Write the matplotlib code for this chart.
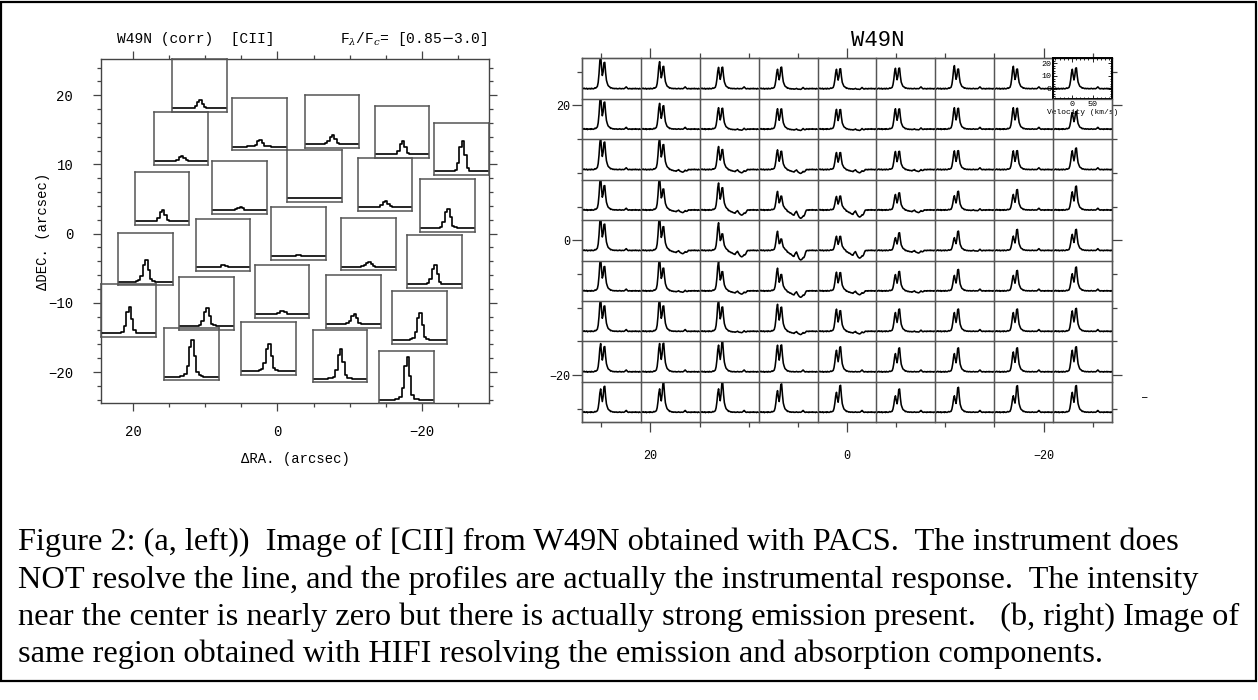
import numpy as np
import matplotlib
matplotlib.use("Agg")
import matplotlib.pyplot as plt
from matplotlib.patches import Rectangle
from matplotlib.ticker import MultipleLocator, FixedLocator

plt.rcParams['font.family'] = ['Liberation Mono', 'DejaVu Sans']
plt.rcParams['mathtext.fontset'] = 'dejavuserif'

W, H = 1258, 700

# ---------------- PACS (left panel) data ----------------
PACS_RA = [10.85, 13.40, 2.51, -7.57, -17.28, -25.58, 16.04, 5.25, -5.13, -14.93,
           -23.54, 18.35, 7.57, -2.94, -12.60, -21.74, -0.63, 20.67, 9.90, 11.94,
           1.29, -10.56, -8.67, -19.68, -17.92]
PACS_DEC = [21.38, 13.77, 15.86, 16.25, 14.72, 12.26, 5.07, 6.71, 8.35, 7.09,
            4.10, -3.68, -1.62, 0.04, -1.51, -4.06, -8.39, -11.14, -10.06, -17.39,
            -16.59, -9.77, -17.68, -12.09, -20.75]
PACS_PEAK = [1.35, 1.19, 1.26, 1.35, 1.54, 2.24, 1.45, 1.10, 1.02, 1.25,
             1.79, 1.87, 1.12, 1.03, 1.19, 1.79, 1.15, 2.09, 1.71, 2.51,
             2.11, 1.41, 2.21, 2.10, 2.75]
PACS_PROFILE = [0, 0, 0, 0, 0, 0, 0, 0.01, 0.02, 0.06, 0.28, 0.8, 1.0, 0.55, 0.12,
                0.03, 0.01, 0, 0, 0, 0, 0, 0, 0]
PACS_RANGE = (0.85, 3.0)
PACS_BOX = 7.6

# ---------------- HIFI (right panel) data ----------------
HIFI_RA = [24, 18, 12, 6, 0, -6, -12, -18, -24]
HIFI_DEC = [24, 18, 12, 6, 0, -6, -12, -18, -24]
V_START, V_STEP, N_CHAN = -45, 2, 72

BLUE_V0 = -15
BLUE_PROFILE = [0.0, 0.01, 0.02, 0.04, 0.08, 0.18, 0.45, 0.85, 1.0, 0.6, 0.25, 0.1,
                0.05, 0.03, 0.02, 0.01, 0, 0, 0, 0, 0, 0, 0, 0]
RED_V0 = -15
RED_PROFILE = [0, 0, 0, 0, 0, 0, 0, 0, 0.02, 0.08, 0.2, 0.55, 0.95, 1.0, 0.6, 0.33,
               0.2, 0.13, 0.09, 0.06, 0.04, 0.03, 0.02, 0.01]
ABS_V0 = 21
ABS_PROFILE = [-0.05, -0.1, -0.2, -0.25, -0.3, -0.35, -0.4, -0.45, -0.55, -0.65,
               -0.6, -0.4, -0.25, -0.2, -0.4, -0.6, -0.85, -0.95, -1.0, -1.0,
               -1.0, -0.95, -0.85, -0.55, -0.2, -0.05]
RIPPLE = [0.2, -0.3, 0.1, 0.4, -0.2, 0.0, 0.3, -0.4,
          0.1, -0.1, 0.2, -0.3, 0.3, 0.0, -0.2, 0.1,
          0.4, -0.1, 0.0, -0.3, 0.2, 0.1, -0.2, 0.0,
          0.3, -0.1, -0.3, 0.2, 0.0, 0.1, -0.2, 0.3,
          -0.1, 0.0, 0.2, -0.3, 0.1, 0.0, -0.2, 0.3,
          -0.1, 0.1, 0.2, -0.2, 0.0, -0.1, 0.3, 0.0,
          -0.2, 0.1, 0.0, -0.1, 0.2, 0.8, 1.4, 0.7,
          0.0, -0.2, 0.2, -0.1, 0.1, -0.3, 0.2, 0.0,
          -0.1, 0.3, -0.2, 0.1, 0.0, -0.3, 0.2, -0.1]

BLUE_AMP = [
    [26, 21, 16.5, 15, 15, 15.8, 17.9, 17.4, 15],
    [26, 20, 16.6, 15.8, 15.3, 15.8, 16.6, 16.6, 13],
    [25, 25, 17.9, 15.3, 13.2, 14, 14.5, 14.5, 14.5],
    [26, 26, 21, 14.5, 10.5, 12, 11, 12, 14],
    [27, 27, 21.6, 15, 11, 9.8, 9.8, 11, 12.4],
    [26, 26, 23, 17.7, 14.5, 12.6, 11.9, 11.9, 13.2],
    [26, 26, 25, 21, 17.2, 14.5, 14.5, 14.5, 15.8],
    [21.9, 21.9, 20.6, 20.6, 16.6, 14, 14, 15.3, 16.6],
    [18, 18, 18, 16.6, 15.3, 12.6, 12.6, 12.6, 15.3],
]
RED_AMP = [
    [20, 17, 16.5, 16.6, 15.3, 15.8, 15, 15, 16],
    [20.6, 17.9, 16, 15.5, 15, 15.5, 16, 16, 13.5],
    [21, 19, 15.3, 14, 13, 14, 14.5, 14.5, 16.6],
    [18.5, 15.8, 17, 10.5, 10.7, 13.2, 14.5, 15.8, 18.5],
    [20, 18, 12.4, 8.5, 10.8, 13.7, 15, 16.3, 16.3],
    [18.5, 17.2, 14.5, 12.4, 14, 15, 16.6, 15.8, 18.5],
    [19.3, 19.3, 18.5, 18.5, 15.8, 17.2, 17.2, 17.2, 17.7],
    [19.3, 21.9, 23.2, 20.6, 19.3, 18.5, 18.5, 18.5, 19.3],
    [20, 22.7, 23.2, 21.9, 20.8, 18, 19.3, 20.6, 20.6],
]
ABS_DEPTH = [
    [0, 0, 0, 0.5, 0.5, 0, 0, 0, 0],
    [0, 0, 0.8, 1, 1, 0.5, 0, 0, 0],
    [0, 2, 2.5, 3, 2.5, 1.5, 0, 0, 0],
    [0, 2, 4, 6.5, 5.5, 2, 0.5, 0, 0],
    [0, 2.5, 5, 7.5, 6, 2, 0.5, 0, 0],
    [0, 1, 2.5, 5, 3, 1.5, 0, 0, 0],
    [0, 0, 1, 2.5, 2, 0.5, 0, 0, 0],
    [0, 0, 0, 0, 0, 0, 0, 0, 0],
    [0, 0, 0, 0, 0, 0, 0, 0, 0],
]
CELL = 6
VEL_RANGE = (-45, 98)
TEMP_RANGE = (-8, 24)

CAPTION = [
    "Figure 2: (a, left))  Image of [CII] from W49N obtained with PACS.  The instrument does",
    "NOT resolve the line, and the profiles are actually the instrumental response.  The intensity",
    "near the center is nearly zero but there is actually strong emission present.   (b, right) Image of",
    "same region obtained with HIFI resolving the emission and absorption components.",
]

# ---------------- figure ----------------
fig = plt.figure(figsize=(W / 100, H / 100), dpi=100)
fig.patches.append(Rectangle((1 / W, 1 - 681 / H), 1255 / W, 679 / H, transform=fig.transFigure,
                             fill=False, lw=1.6, ec='black'))


def px_axes(x0, y0, x1, y1):
    return fig.add_axes([x0 / W, 1 - y1 / H, (x1 - x0) / W, (y1 - y0) / H])


# ---------- left panel ----------
axL = px_axes(101, 59.3, 489, 403)
LX = (24.49, -29.35)
LY = (-24.48, 25.2)
axL.set_xlim(*LX)
axL.set_ylim(*LY)
axL.xaxis.set_major_locator(MultipleLocator(20))
axL.xaxis.set_minor_locator(MultipleLocator(5))
axL.yaxis.set_major_locator(MultipleLocator(10))
axL.yaxis.set_minor_locator(MultipleLocator(2))
axL.tick_params(which='both', direction='out', top=True, right=True, color='#444', width=0.9)
axL.tick_params(which='major', length=6, labelsize=10, pad=10)
axL.tick_params(axis='y', which='major', pad=14)
axL.tick_params(which='minor', length=3)
for s in axL.spines.values():
    s.set_color('#444')
    s.set_linewidth(1.0)
axL.set_xlabel('ΔRA. (arcsec)', fontsize=10)
axL.set_ylabel('ΔDEC. (arcsec)', fontsize=10)
axL.xaxis.set_label_coords(0.5, -0.143)
axL.yaxis.set_label_coords(-0.131, 0.5)

spanx = LX[0] - LX[1]
spany = LY[1] - LY[0]
chan = np.arange(len(PACS_PROFILE))
prof = np.array(PACS_PROFILE)
for ra, dec, pk in zip(PACS_RA, PACS_DEC, PACS_PEAK):
    fx = (LX[0] - (ra + PACS_BOX / 2)) / spanx
    fy = (dec - PACS_BOX / 2 - LY[0]) / spany
    bax = axL.inset_axes([fx, fy, PACS_BOX / spanx, PACS_BOX / spany])
    bax.set_facecolor('none')
    bax.plot(chan, 1 + (pk - 1) * prof, drawstyle='steps-mid', color='black', lw=1.2)
    bax.set_xlim(chan[0], chan[-1])
    bax.set_ylim(*PACS_RANGE)
    bax.set_xticks([])
    bax.set_yticks([])
    for s in bax.spines.values():
        s.set_color('#555')
        s.set_linewidth(1.1)

fig.text(117 / W, 1 - 39 / H, 'W49N (corr)  [CII]', fontsize=10.5, ha='left', va='center')
fig.text(487 / W, 1 - 39 / H, r'F$_\lambda$/F$_c$= [0.85$-$3.0]', fontsize=10.5, ha='right', va='center')

# ---------- right panel ----------
axR = px_axes(581.7, 58.3, 1112.3, 422.3)
RX = (27, -27)
RY = (-27, 27)
axR.set_xlim(*RX)
axR.set_ylim(*RY)
axR.xaxis.set_major_locator(MultipleLocator(20))
axR.xaxis.set_minor_locator(MultipleLocator(5))
axR.yaxis.set_major_locator(MultipleLocator(20))
axR.yaxis.set_minor_locator(MultipleLocator(5))
axR.tick_params(which='both', direction='out', top=True, right=True, color='#444', width=0.9)
axR.tick_params(which='major', length=7, labelsize=8.5)
axR.tick_params(axis='x', which='major', pad=13)
axR.tick_params(axis='y', which='major', pad=1.5)
axR.tick_params(which='minor', length=3.6)
for s in axR.spines.values():
    s.set_color('#444')
    s.set_linewidth(1.0)
fig.text(878 / W, 1 - 41 / H, 'W49N', fontsize=16, ha='center', va='center')

vel = V_START + V_STEP * np.arange(N_CHAN)
blue = np.zeros(N_CHAN)
i0 = (BLUE_V0 - V_START) // V_STEP
blue[i0:i0 + len(BLUE_PROFILE)] = BLUE_PROFILE
red = np.zeros(N_CHAN)
i0 = (RED_V0 - V_START) // V_STEP
red[i0:i0 + len(RED_PROFILE)] = RED_PROFILE
absn = np.zeros(N_CHAN)
i0 = (ABS_V0 - V_START) // V_STEP
absn[i0:i0 + len(ABS_PROFILE)] = ABS_PROFILE
ripple = np.array(RIPPLE)

sx = RX[0] - RX[1]
sy = RY[1] - RY[0]
for r, dec in enumerate(HIFI_DEC):
    for c, ra in enumerate(HIFI_RA):
        fx = (RX[0] - (ra + CELL / 2)) / sx
        fy = (dec - CELL / 2 - RY[0]) / sy
        cax = axR.inset_axes([fx, fy, CELL / sx, CELL / sy])
        cax.set_facecolor('none')
        spec = BLUE_AMP[r][c] * blue + RED_AMP[r][c] * red + ABS_DEPTH[r][c] * absn + ripple
        cax.plot(vel, spec, color='black', lw=1.15)
        cax.set_xlim(*VEL_RANGE)
        cax.set_ylim(*TEMP_RANGE)
        special = (r == 0 and c == len(HIFI_RA) - 1)
        if special:
            cax.xaxis.set_major_locator(FixedLocator([0, 50]))
            cax.xaxis.set_minor_locator(MultipleLocator(10))
            cax.yaxis.set_major_locator(FixedLocator([0, 10, 20]))
            cax.yaxis.set_minor_locator(MultipleLocator(2))
            cax.tick_params(which='both', direction='in', top=True, right=True,
                            labelsize=6, pad=1.5, width=0.6, color='black')
            cax.tick_params(which='major', length=3)
            cax.tick_params(which='minor', length=1.6)
            cax.set_xlabel('Velocity (km/s)', fontsize=5.8, labelpad=0.5)
            for s in cax.spines.values():
                s.set_color('black')
                s.set_linewidth(1.4)
        else:
            cax.set_xticks([])
            cax.set_yticks([])
            for s in cax.spines.values():
                s.set_color('#555')
                s.set_linewidth(0.9)

fig.text(1145 / W, 1 - 398 / H, '\u2013', fontsize=9, ha='center', va='center')

# ---------- caption ----------
cap_y = [542, 580, 617, 654]
texts = [fig.text(18 / W, 1 - y / H, s, fontsize=19, family='Liberation Serif',
                  ha='left', va='center') for s, y in zip(CAPTION, cap_y)]
fig.canvas.draw()
rend = fig.canvas.get_renderer()
wid = texts[1].get_window_extent(rend).width
fs = 19 * 1181 / wid
for t in texts:
    t.set_fontsize(fs)

fig.savefig('out.png', dpi=100)
